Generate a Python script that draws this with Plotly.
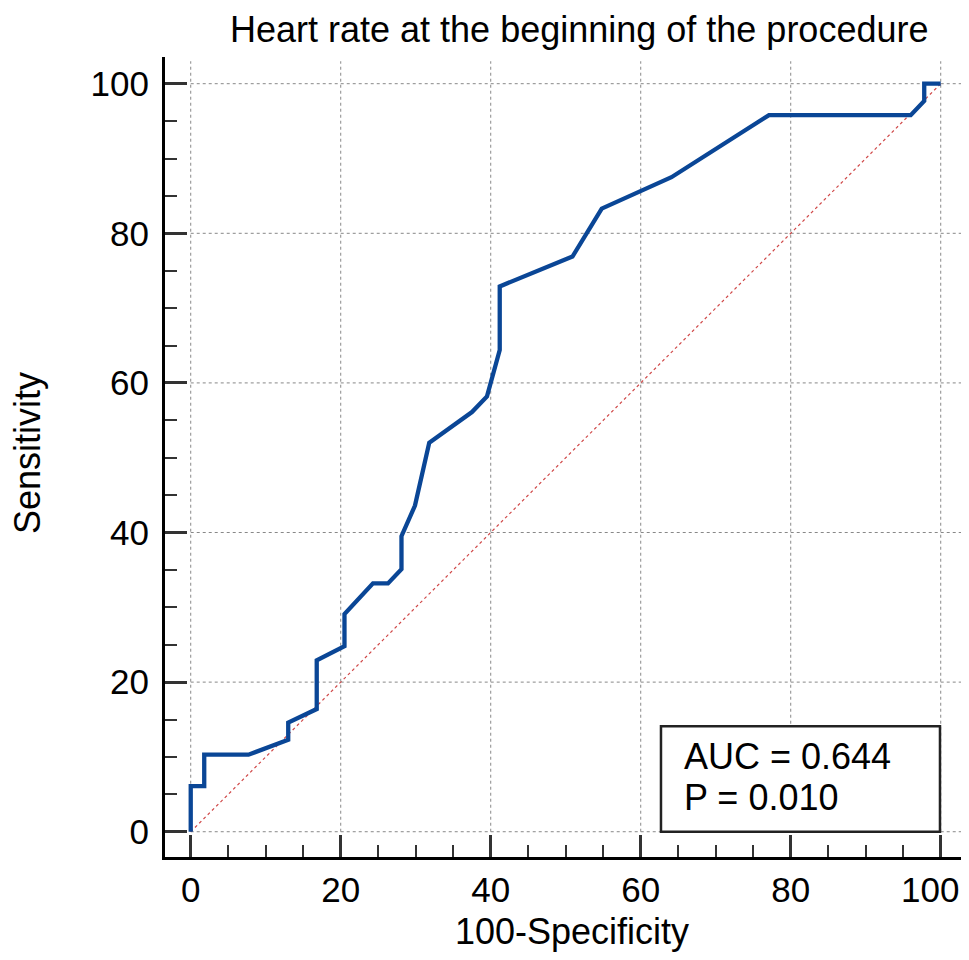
import plotly.graph_objects as go

# ROC curve points (100-Specificity, Sensitivity)
fpr = [0, 0, 1.8, 1.8, 7.7, 13.0, 13.0, 16.8, 16.8, 20.5, 20.5, 24.3, 26.3, 28.1, 28.1,
       29.9, 31.8, 37.5, 39.5, 41.2, 41.2, 50.9, 54.8, 64.1, 77.1, 96.0, 97.8, 97.8, 100]
tpr = [0, 6.1, 6.1, 10.3, 10.3, 12.3, 14.6, 16.4, 22.9, 24.8, 29.1, 33.2, 33.2, 35.1, 39.5,
       43.6, 52.0, 56.1, 58.2, 64.4, 72.9, 76.9, 83.3, 87.5, 95.8, 95.8, 97.7, 100, 100]
diag = [0, 100]
tick_vals = [0, 20, 40, 60, 80, 100]
tick_text = ["0", "20", "40", "60", "80", "100"]
title_text = "Heart rate at the beginning of the procedure"
x_title = "100-Specificity"
y_title = "Sensitivity"
auc_text = "AUC = 0.644"
p_text = "P = 0.010"

FONT = "Liberation Sans, Arial, sans-serif"
XR = [-3.43, 103.77]
YR = [-3.38, 103.57]

fig = go.Figure()
fig.add_trace(go.Scatter(x=diag, y=diag, mode="lines",
                         line=dict(color="#d04848", width=1.2, dash="dot"),
                         hoverinfo="skip", showlegend=False))
fig.add_trace(go.Scatter(x=fpr, y=tpr, mode="lines",
                         line=dict(color="#0a4696", width=4.3),
                         showlegend=False))

shapes = []
for v in tick_vals:
    shapes.append(dict(type="line", xref="x", yref="y", x0=v, x1=v, y0=0, y1=103.0,
                       line=dict(color="#888888", width=1, dash="dot"), layer="below"))
    shapes.append(dict(type="line", xref="x", yref="y", x0=0, x1=XR[1], y0=v, y1=v,
                       line=dict(color="#888888", width=1, dash="dot"), layer="below"))
shapes.append(dict(type="rect", xref="x", yref="y", x0=62.7, x1=99.9, y0=0, y1=14.1,
                   line=dict(color="#222222", width=2.5), fillcolor="white", layer="above"))

axis_common = dict(
    tickvals=tick_vals, ticks="inside", ticklen=22, tickwidth=3,
    tickcolor="#333333", showline=True, linecolor="black", linewidth=3,
    showgrid=False, zeroline=False, ticklabeloverflow="allow",
    tickfont=dict(family=FONT, size=35, color="black"),
    minor=dict(dtick=5, tick0=0, ticks="inside", ticklen=12, tickwidth=1.5,
               tickcolor="#333333", showgrid=False),
)

# last x tick label is placed as an annotation so it stays inside the visible page
x_ticktext = tick_text[:-1] + [""]

fig.update_layout(
    width=961, height=944,
    margin=dict(l=157, r=0, t=49, b=95),
    plot_bgcolor="white", paper_bgcolor="white",
    xaxis=dict(range=XR, ticktext=x_ticktext, ticklabelstandoff=0, **axis_common),
    yaxis=dict(range=YR, ticktext=tick_text, ticklabelstandoff=6, **axis_common),
    shapes=shapes,
    annotations=[
        dict(text=tick_text[-1], xref="paper", yref="paper", x=(953 - 157) / 804,
             y=-(881 - 849) / 800, xanchor="right", yanchor="middle", showarrow=False,
             font=dict(family=FONT, size=35, color="black")),
        dict(text=title_text, xref="paper", yref="paper", x=(579 - 165) / 804,
             y=1 + (57 - 29) / 800, xanchor="center", yanchor="middle", showarrow=False,
             font=dict(family=FONT, size=36, color="black")),
        dict(text=x_title, xref="paper", yref="paper", x=(572 - 165) / 804,
             y=-(931 - 857) / 800, xanchor="center", yanchor="middle", showarrow=False,
             font=dict(family=FONT, size=36, color="black")),
        dict(text=y_title, xref="paper", yref="paper", x=(27 - 165) / 804,
             y=(857 - 453) / 800, xanchor="center", yanchor="middle", showarrow=False,
             textangle=-90, font=dict(family=FONT, size=36, color="black")),
        dict(text=auc_text, xref="x", yref="y", x=65.5, y=10.0,
             xanchor="left", yanchor="middle", showarrow=False,
             font=dict(family=FONT, size=36, color="black")),
        dict(text=p_text, xref="x", yref="y", x=65.5, y=4.6,
             xanchor="left", yanchor="middle", showarrow=False,
             font=dict(family=FONT, size=36, color="black")),
    ],
)

fig.write_html("out.html")
